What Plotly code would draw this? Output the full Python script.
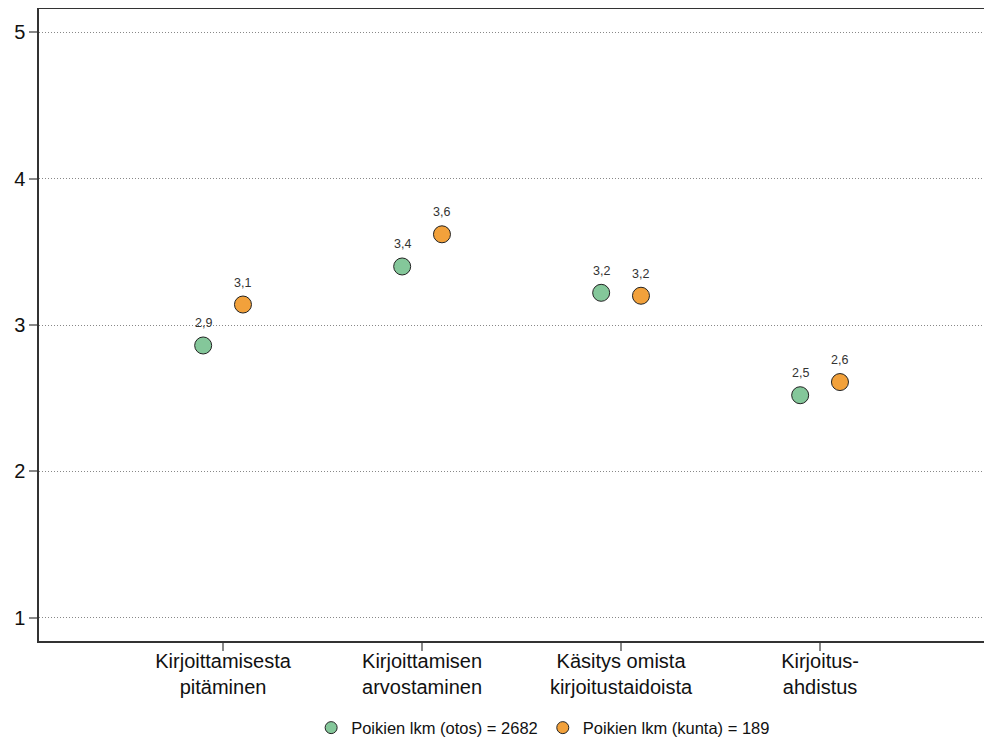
import plotly.graph_objects as go

categories = ["Kirjoittamisesta<br>pitäminen", "Kirjoittamisen<br>arvostaminen",
              "Käsitys omista<br>kirjoitustaidoista", "Kirjoitus-<br>ahdistus"]
otos_values = [2.86, 3.40, 3.22, 2.52]
kunta_values = [3.14, 3.62, 3.20, 2.61]
otos_labels = ["2,9", "3,4", "3,2", "2,5"]
kunta_labels = ["3,1", "3,6", "3,2", "2,6"]
series_names = ["Poikien lkm (otos) = 2682", "Poikien lkm (kunta) = 189"]
y_ticks = [1, 2, 3, 4, 5]

green = "#84C79A"
orange = "#F2A13B"
font = "Liberation Sans, Arial, sans-serif"

pos = list(range(1, len(categories) + 1))
off = 0.1

fig = go.Figure()
for xs, ys, col, name in [([p - off for p in pos], otos_values, green, series_names[0]),
                          ([p + off for p in pos], kunta_values, orange, series_names[1])]:
    fig.add_trace(go.Scatter(
        x=xs, y=ys, mode="markers", name=name, showlegend=False,
        marker=dict(size=17, color=col, line=dict(color="#222222", width=1)),
    ))
    # legend-only proxy with smaller symbol
    fig.add_trace(go.Scatter(
        x=[None], y=[None], mode="markers", name=name, showlegend=True,
        marker=dict(size=12, color=col, line=dict(color="#222222", width=1)),
    ))

for xs, ys, labs in [([p - off for p in pos], otos_values, otos_labels),
                     ([p + off for p in pos], kunta_values, kunta_labels)]:
    for x, y, t in zip(xs, ys, labs):
        fig.add_annotation(x=x, y=y, text=t, showarrow=False, yshift=22,
                           font=dict(family=font, size=12.5, color="#333333"))

# page body has an 8px default margin
fig.update_layout(
    width=984, height=740,
    margin=dict(l=31, r=0, t=1, b=107, pad=0),
    paper_bgcolor="white", plot_bgcolor="white",
    font=dict(family=font, color="#111111"),
    showlegend=True,
    legend=dict(orientation="h", x=0.529, xanchor="center", y=-0.1375, yanchor="middle",
                font=dict(family=font, size=16.5, color="#111111"),
                itemwidth=30, tracegroupgap=0),
)
fig.update_xaxes(
    range=[0.075, 4.864], tickvals=pos, ticktext=categories,
    showgrid=False, zeroline=False,
    showline=True, linecolor="#333333", linewidth=1.5, mirror=True,
    ticks="outside", ticklen=8, tickcolor="#888888", tickwidth=1.5,
    tickfont=dict(family=font, size=20, color="#111111"),
    ticklabelstandoff=-7,
    automargin=False,
)
fig.update_yaxes(
    range=[0.84, 5.16], tickvals=y_ticks, ticktext=[str(v) for v in y_ticks],
    showgrid=True, gridcolor="#888888", griddash="1px,2px", gridwidth=1,
    zeroline=False,
    showline=True, linecolor="#333333", linewidth=1.5,
    ticks="outside", ticklen=8, tickcolor="#888888", tickwidth=1.5,
    tickfont=dict(family=font, size=20, color="#111111"),
    automargin=False,
)

fig.write_html("out.html")
